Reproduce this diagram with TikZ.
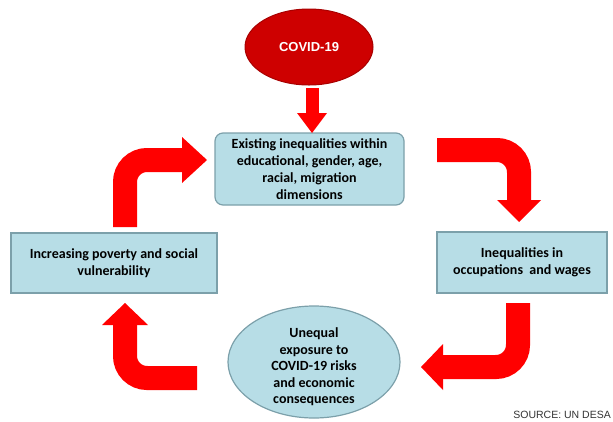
\documentclass[tikz,border=0pt]{standalone}
\usepackage{fontspec}
\setmainfont{Carlito}
\newfontfamily\arialfont{Liberation Sans}
\usetikzlibrary{positioning, calc, shapes.geometric}

\definecolor{boxfill}{RGB}{183,221,230}
\definecolor{boxline}{RGB}{124,160,170}
\definecolor{virusred}{RGB}{206,0,0}
\definecolor{virusline}{RGB}{168,0,0}
\definecolor{arrowred}{RGB}{255,0,0}

\tikzset{
    stage/.style={draw=boxline, fill=boxfill, line width=1.2pt, align=center,
        inner sep=0pt, font=\bfseries\fontsize{14}{17}\selectfont},
    shaft/.style={draw=arrowred, line width=24pt, rounded corners=22pt},
}

\begin{document}
\begin{tikzpicture}[x=1pt, y=-1pt]
    \clip (0,0) rectangle (613,421);
    % Trigger
    \node[ellipse, fill=virusred, draw=virusline, line width=1pt,
        minimum width=128pt, minimum height=76pt, text=white,
        font=\arialfont\bfseries\fontsize{13}{15}\selectfont] (covid) at (309,47) {COVID-19};
    % The four stages of the cycle
    \node[stage, rounded corners=8pt, minimum width=189pt, minimum height=72pt]
        (existing) at (309.5,169) {Existing inequalities within\\educational, gender, age,\\racial, migration\\dimensions};
    \node[stage, minimum width=170pt, minimum height=61pt]
        (wages) at (522,262.5) {Inequalities in\\occupations\ \ and wages};
    \node[stage, ellipse, minimum width=172pt, minimum height=112pt]
        (exposure) at (314,362) {};
    \node[align=center, font=\bfseries\fontsize{14}{16.5}\selectfont]
        (exposuretext) at (314,367) {Unequal\\exposure to\\COVID-19 risks\\and economic\\consequences};
    \node[stage, minimum width=206pt, minimum height=60pt]
        (poverty) at (114,263) {Increasing poverty and social\\vulnerability};

    % COVID-19 -> existing inequalities
    \coordinate (a1) at (312,88);
    \coordinate (a2) at (312,113);
    \draw[draw=arrowred, line width=13pt] (a1) -- (a2);
    \fill[arrowred] ($(a2)+(-15,0)$) -- ($(a2)+(0,20)$) -- ($(a2)+(15,0)$) -- cycle;

    % existing -> occupations and wages
    \coordinate (c1) at (437,150);
    \coordinate (c2) at (519,150);
    \coordinate (c3) at (519,200);
    \draw[shaft] (c1) -- (c2) -- (c3);
    \fill[arrowred] ($(c3)+(-22,0)$) -- ($(c3)+(0,22)$) -- ($(c3)+(22,0)$) -- cycle;

    % wages -> unequal exposure
    \coordinate (d1) at (518,303);
    \coordinate (d2) at (518,367);
    \coordinate (d3) at (443,367);
    \draw[shaft] (d1) -- (d2) -- (d3);
    \fill[arrowred] ($(d3)+(0,-23)$) -- ($(d3)+(-22,0)$) -- ($(d3)+(0,23)$) -- cycle;

    % exposure -> poverty
    \coordinate (e1) at (197,378);
    \coordinate (e2) at (125,378);
    \coordinate (e3) at (125,325);
    \draw[shaft] (e1) -- (e2) -- (e3);
    \fill[arrowred] ($(e3)+(-23,0)$) -- ($(e3)+(0,-22)$) -- ($(e3)+(23,0)$) -- cycle;

    % poverty -> existing (closes the loop)
    \coordinate (b1) at (125,227);
    \coordinate (b2) at (125,160);
    \coordinate (b3) at (182,160);
    \draw[shaft] (b1) -- (b2) -- (b3);
    \fill[arrowred] ($(b3)+(0,-23)$) -- ($(b3)+(25,0)$) -- ($(b3)+(0,23)$) -- cycle;

    \node[anchor=base east, inner sep=0pt, text=black!80,
        font=\arialfont\fontsize{10.5}{12}\selectfont] (source) at (611,418) {SOURCE: UN DESA};
\end{tikzpicture}
\end{document}
